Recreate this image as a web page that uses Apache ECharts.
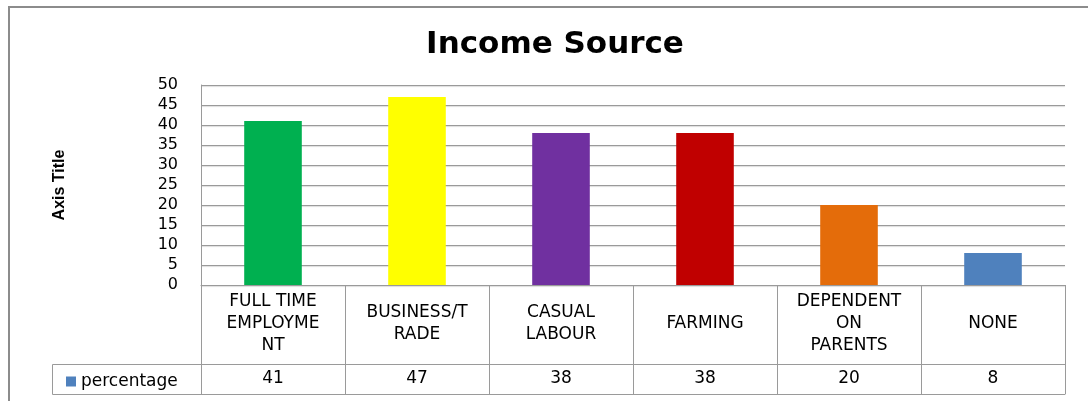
<!DOCTYPE html>
<html>
<head>
<meta charset="utf-8">
<script src="https://cdn.jsdelivr.net/npm/echarts@6/dist/echarts.min.js"></script>
<style>
  html, body { margin: 0; padding: 0; background: #fff; }
  #main { width: 1088px; height: 401px; }
</style>
</head>
<body>
<div id="main"></div>
<script>
var categories = ['FULL TIME\nEMPLOYME\nNT', 'BUSINESS/T\nRADE', 'CASUAL\nLABOUR', 'FARMING', 'DEPENDENT\nON\nPARENTS', 'NONE'];
var percentage = [41, 47, 38, 38, 20, 8];
var barColors = ['#00b050', '#ffff00', '#7030a0', '#c00000', '#e46c0a', '#4f81bd'];
var yTicks = { min: 0, max: 50, step: 5 };

var font = 'DejaVu Sans';
var lineColor = '#9a9a9a';

var myChart = echarts.init(document.getElementById('main'));
var option = {
    backgroundColor: '#fff',
    animation: false,
    title: {
        text: 'Income Source',
        left: 550,
        textAlign: 'center',
        top: 24,
        textStyle: { fontFamily: font, fontWeight: 'bold', fontSize: 31, color: '#000' }
    },
    legend: {
        data: ['percentage'],
        left: 61,
        top: 368,
        icon: 'rect',
        itemWidth: 10,
        itemHeight: 10,
        itemGap: 10,
        textStyle: { fontFamily: font, fontSize: 17, color: '#000' }
    },
    grid: { left: 201, right: 23, top: 85, bottom: 116, containLabel: false },
    graphic: [
        {
            // outer chart border
            type: 'rect',
            shape: { x: 9, y: 7, width: 1100, height: 420 },
            style: { fill: 'none', stroke: '#8c8c8c', lineWidth: 2 },
            silent: true
        },
        {
            // legend cell of the data table
            type: 'rect',
            shape: { x: 52.5, y: 364.5, width: 149, height: 30 },
            style: { fill: 'none', stroke: lineColor, lineWidth: 1 },
            silent: true
        }
    ],
    xAxis: [
        {
            type: 'category',
            data: categories,
            position: 'bottom',
            axisLine: { show: true, lineStyle: { color: lineColor } },
            axisTick: { show: true, interval: 0, length: 109, lineStyle: { color: lineColor } },
            axisLabel: {
                interval: 0,
                margin: 39,
                verticalAlign: 'middle',
                fontFamily: font,
                fontSize: 17,
                lineHeight: 22,
                color: '#000'
            }
        },
        {
            type: 'category',
            data: categories,
            position: 'bottom',
            offset: 79,
            axisLine: { show: true, lineStyle: { color: lineColor } },
            axisTick: { show: false },
            axisLabel: {
                interval: 0,
                margin: 15,
                verticalAlign: 'middle',
                fontFamily: font,
                fontSize: 17,
                color: '#000',
                formatter: function (v, i) { return String(percentage[i]); }
            }
        },
        {
            type: 'category',
            data: categories,
            position: 'bottom',
            offset: 109,
            axisLine: { show: true, lineStyle: { color: lineColor } },
            axisTick: { show: false },
            axisLabel: { show: false }
        }
    ],
    yAxis: {
        type: 'value',
        min: yTicks.min,
        max: yTicks.max,
        interval: yTicks.step,
        name: 'Axis Title',
        nameLocation: 'middle',
        nameRotate: 90,
        nameGap: 133,
        nameTextStyle: { fontFamily: 'Liberation Sans', fontWeight: 'bold', fontSize: 16, color: '#000' },
        axisLine: { show: true, lineStyle: { color: lineColor } },
        axisTick: { show: false },
        axisLabel: { margin: 23, fontFamily: font, fontSize: 16, color: '#000' },
        splitLine: {
            lineStyle: { color: lineColor, width: 1, shadowColor: 'rgba(0,0,0,0.15)', shadowOffsetY: 1, shadowBlur: 1 }
        }
    },
    series: [
        {
            name: 'percentage',
            type: 'bar',
            xAxisIndex: 0,
            barCategoryGap: '60%',
            itemStyle: { color: '#4f81bd' },
            data: percentage.map(function (v, i) {
                return { value: v, itemStyle: { color: barColors[i] } };
            })
        }
    ]
};
myChart.setOption(option);
</script>
</body>
</html>
